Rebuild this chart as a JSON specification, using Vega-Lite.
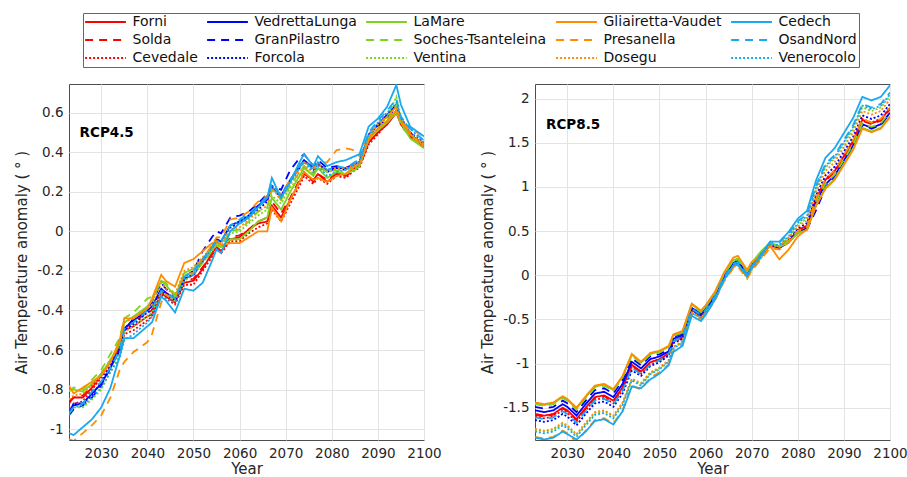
{
  "$schema": "https://vega.github.io/schema/vega-lite/v6.json",
  "background": "white",
  "padding": {"left": 14, "top": 12, "right": 0, "bottom": 0},
  "config": {
    "font": "DejaVu Sans",
    "view": {"stroke": "#4d4d4d", "strokeWidth": 1},
    "axis": {"labelFont": "DejaVu Sans", "labelFontSize": 13.5, "labelColor": "#262626", "titleFont": "DejaVu Sans", "titleFontSize": 15, "titleFontWeight": "normal", "titleColor": "#262626", "gridColor": "#e3e3e3", "gridWidth": 1, "domain": false, "ticks": false, "labelPadding": 6, "labelOverlap": false, "labelFlush": false},
    "axisY": {"titlePadding": 7},
    "axisX": {"titlePadding": 2},
    "concat": {"spacing": 38},
    "legend": {"orient": "none", "legendX": 14, "legendY": -71, "columns": 5, "gridAlign": "each", "symbolType": "M-3.4,0H3.4", "symbolSize": 144, "symbolStrokeWidth": 2, "symbolOffset": 13.5, "labelAlign": "left", "labelFont": "DejaVu Sans", "labelFontSize": 14, "labelColor": "#111111", "strokeColor": "#666666", "padding": 2, "clipHeight": 14, "rowPadding": 4, "columnPadding": 9, "labelOffset": 20, "labelLimit": 300}
  },
  "hconcat": [
    {
      "width": 355,
      "height": 356,
      "layer": [
        {
          "data": {"values": [
            {"s": "Forni", "y": [2023,2024,2026,2028,2030,2032,2034,2035,2037,2040,2041,2043,2044,2046,2048,2050,2052,2054,2055,2056,2058,2060,2062,2064,2066,2067,2069,2071,2073,2074,2076,2077,2079,2081,2083,2085,2086,2088,2090,2092,2094,2095,2097,2100], "v": [-0.87,-0.84,-0.84,-0.79,-0.73,-0.66,-0.59,-0.50,-0.48,-0.43,-0.42,-0.31,-0.33,-0.36,-0.26,-0.25,-0.19,-0.11,-0.08,-0.10,-0.04,-0.03,0.01,0.04,0.05,0.13,0.07,0.16,0.25,0.29,0.26,0.29,0.25,0.29,0.29,0.32,0.33,0.45,0.50,0.54,0.60,0.54,0.48,0.43]},
            {"s": "Solda", "y": [2023,2024,2026,2028,2030,2032,2034,2035,2037,2040,2041,2043,2044,2046,2048,2050,2052,2054,2055,2056,2058,2060,2062,2064,2066,2067,2069,2071,2073,2074,2076,2077,2079,2081,2083,2085,2086,2088,2090,2092,2094,2095,2097,2100], "v": [-0.86,-0.84,-0.83,-0.78,-0.72,-0.65,-0.58,-0.49,-0.46,-0.41,-0.40,-0.30,-0.31,-0.35,-0.25,-0.24,-0.18,-0.12,-0.08,-0.10,-0.03,-0.02,0.01,0.05,0.07,0.15,0.09,0.17,0.26,0.30,0.25,0.29,0.26,0.29,0.28,0.31,0.33,0.45,0.50,0.55,0.61,0.56,0.48,0.43]},
            {"s": "Cevedale", "y": [2023,2024,2026,2028,2030,2032,2034,2035,2037,2040,2041,2043,2044,2046,2048,2050,2052,2054,2055,2056,2058,2060,2062,2064,2066,2067,2069,2071,2073,2074,2076,2077,2079,2081,2083,2085,2086,2088,2090,2092,2094,2095,2097,2100], "v": [-0.91,-0.87,-0.86,-0.80,-0.74,-0.68,-0.61,-0.52,-0.50,-0.45,-0.43,-0.32,-0.34,-0.37,-0.27,-0.27,-0.20,-0.13,-0.09,-0.11,-0.05,-0.05,-0.01,0.02,0.04,0.11,0.05,0.14,0.23,0.28,0.24,0.27,0.24,0.28,0.27,0.31,0.32,0.44,0.49,0.55,0.60,0.56,0.48,0.43]},
            {"s": "VedrettaLunga", "y": [2023,2024,2026,2028,2030,2032,2034,2035,2037,2040,2041,2043,2044,2046,2048,2050,2052,2054,2055,2056,2058,2060,2062,2064,2066,2067,2069,2071,2073,2074,2076,2077,2079,2081,2083,2085,2086,2088,2090,2092,2094,2095,2097,2100], "v": [-0.92,-0.88,-0.87,-0.82,-0.77,-0.69,-0.60,-0.49,-0.45,-0.40,-0.38,-0.29,-0.31,-0.34,-0.24,-0.22,-0.15,-0.08,-0.04,-0.05,0.03,0.05,0.08,0.13,0.16,0.22,0.18,0.26,0.33,0.36,0.32,0.34,0.31,0.32,0.32,0.34,0.35,0.48,0.54,0.59,0.64,0.56,0.49,0.44]},
            {"s": "GranPilastro", "y": [2023,2024,2026,2028,2030,2032,2034,2035,2037,2040,2041,2043,2044,2046,2048,2050,2052,2054,2055,2056,2058,2060,2062,2064,2066,2067,2069,2071,2073,2074,2076,2077,2079,2081,2083,2085,2086,2088,2090,2092,2094,2095,2097,2100], "v": [-0.93,-0.90,-0.88,-0.84,-0.78,-0.69,-0.57,-0.50,-0.44,-0.39,-0.36,-0.26,-0.29,-0.33,-0.23,-0.20,-0.10,-0.03,0.00,-0.01,0.07,0.08,0.10,0.14,0.19,0.23,0.21,0.31,0.37,0.39,0.33,0.36,0.32,0.33,0.32,0.34,0.35,0.48,0.53,0.57,0.63,0.55,0.50,0.43]},
            {"s": "Forcola", "y": [2023,2024,2026,2028,2030,2032,2034,2035,2037,2040,2041,2043,2044,2046,2048,2050,2052,2054,2055,2056,2058,2060,2062,2064,2066,2067,2069,2071,2073,2074,2076,2077,2079,2081,2083,2085,2086,2088,2090,2092,2094,2095,2097,2100], "v": [-0.92,-0.87,-0.87,-0.83,-0.76,-0.68,-0.61,-0.50,-0.47,-0.41,-0.40,-0.30,-0.32,-0.35,-0.24,-0.22,-0.15,-0.09,-0.05,-0.06,0.02,0.04,0.07,0.11,0.15,0.22,0.17,0.25,0.32,0.36,0.31,0.34,0.30,0.32,0.31,0.34,0.35,0.49,0.54,0.58,0.64,0.57,0.50,0.45]},
            {"s": "LaMare", "y": [2023,2024,2026,2028,2030,2032,2034,2035,2037,2040,2041,2043,2044,2046,2048,2050,2052,2054,2055,2056,2058,2060,2062,2064,2066,2067,2069,2071,2073,2074,2076,2077,2079,2081,2083,2085,2086,2088,2090,2092,2094,2095,2097,2100], "v": [-0.80,-0.80,-0.81,-0.77,-0.72,-0.65,-0.57,-0.46,-0.43,-0.38,-0.35,-0.25,-0.27,-0.33,-0.21,-0.19,-0.14,-0.09,-0.07,-0.08,-0.04,-0.04,0.00,0.05,0.07,0.17,0.11,0.20,0.28,0.32,0.28,0.32,0.27,0.30,0.29,0.31,0.33,0.47,0.51,0.55,0.60,0.55,0.47,0.42]},
            {"s": "Soches-Tsanteleina", "y": [2023,2024,2026,2028,2030,2032,2034,2035,2037,2040,2041,2043,2044,2046,2048,2050,2052,2054,2055,2056,2058,2060,2062,2064,2066,2067,2069,2071,2073,2074,2076,2077,2079,2081,2083,2085,2086,2088,2090,2092,2094,2095,2097,2100], "v": [-0.81,-0.79,-0.80,-0.75,-0.70,-0.62,-0.54,-0.44,-0.41,-0.34,-0.33,-0.25,-0.26,-0.32,-0.22,-0.21,-0.16,-0.10,-0.06,-0.07,0.00,0.01,0.05,0.10,0.12,0.21,0.16,0.23,0.30,0.33,0.29,0.33,0.30,0.31,0.31,0.33,0.33,0.48,0.52,0.56,0.64,0.53,0.48,0.43]},
            {"s": "Ventina", "y": [2023,2024,2026,2028,2030,2032,2034,2035,2037,2040,2041,2043,2044,2046,2048,2050,2052,2054,2055,2056,2058,2060,2062,2064,2066,2067,2069,2071,2073,2074,2076,2077,2079,2081,2083,2085,2086,2088,2090,2092,2094,2095,2097,2100], "v": [-0.92,-0.89,-0.89,-0.85,-0.80,-0.71,-0.62,-0.51,-0.48,-0.43,-0.41,-0.31,-0.32,-0.35,-0.25,-0.22,-0.16,-0.10,-0.07,-0.07,-0.01,0.00,0.04,0.08,0.11,0.18,0.14,0.22,0.28,0.32,0.29,0.32,0.30,0.31,0.29,0.32,0.33,0.47,0.52,0.58,0.68,0.58,0.49,0.44]},
            {"s": "Gliairetta-Vaudet", "y": [2023,2024,2026,2028,2030,2032,2034,2035,2037,2040,2041,2043,2044,2046,2048,2050,2052,2054,2055,2056,2058,2060,2062,2064,2066,2067,2069,2071,2073,2074,2076,2077,2079,2081,2083,2085,2086,2088,2090,2092,2094,2095,2097,2100], "v": [-0.78,-0.82,-0.79,-0.76,-0.73,-0.66,-0.55,-0.44,-0.44,-0.39,-0.34,-0.22,-0.25,-0.28,-0.16,-0.14,-0.10,-0.06,-0.05,-0.07,-0.06,-0.06,-0.03,0.00,0.00,0.12,0.05,0.16,0.25,0.30,0.26,0.27,0.25,0.28,0.29,0.33,0.34,0.46,0.52,0.56,0.61,0.56,0.49,0.43]},
            {"s": "Presanella", "y": [2023,2024,2026,2028,2030,2032,2034,2035,2037,2040,2041,2043,2044,2046,2048,2050,2052,2054,2055,2056,2058,2060,2062,2064,2066,2067,2069,2071,2073,2074,2076,2077,2079,2081,2083,2085,2086,2088,2090,2092,2094,2095,2097,2100], "v": [-1.05,-1.06,-1.02,-0.98,-0.93,-0.84,-0.70,-0.66,-0.61,-0.56,-0.52,-0.36,-0.32,-0.34,-0.22,-0.21,-0.14,-0.07,-0.03,-0.03,0.06,0.07,0.10,0.15,0.18,0.21,0.19,0.26,0.32,0.35,0.32,0.34,0.35,0.41,0.42,0.41,0.38,0.49,0.54,0.58,0.63,0.55,0.52,0.48]},
            {"s": "Dosegu", "y": [2023,2024,2026,2028,2030,2032,2034,2035,2037,2040,2041,2043,2044,2046,2048,2050,2052,2054,2055,2056,2058,2060,2062,2064,2066,2067,2069,2071,2073,2074,2076,2077,2079,2081,2083,2085,2086,2088,2090,2092,2094,2095,2097,2100], "v": [-0.85,-0.83,-0.82,-0.78,-0.73,-0.66,-0.57,-0.46,-0.44,-0.39,-0.37,-0.26,-0.29,-0.32,-0.20,-0.18,-0.13,-0.08,-0.05,-0.06,0.01,0.02,0.06,0.10,0.13,0.22,0.16,0.24,0.30,0.33,0.30,0.34,0.31,0.32,0.32,0.34,0.35,0.48,0.54,0.58,0.63,0.55,0.50,0.44]},
            {"s": "OsandNord", "y": [2023,2024,2026,2028,2030,2032,2034,2035,2037,2040,2041,2043,2044,2046,2048,2050,2052,2054,2055,2056,2058,2060,2062,2064,2066,2067,2069,2071,2073,2074,2076,2077,2079,2081,2083,2085,2086,2088,2090,2092,2094,2095,2097,2100], "v": [-0.92,-0.89,-0.87,-0.81,-0.76,-0.69,-0.60,-0.49,-0.46,-0.40,-0.39,-0.30,-0.31,-0.34,-0.23,-0.20,-0.14,-0.08,-0.05,-0.05,0.03,0.06,0.09,0.13,0.18,0.24,0.18,0.26,0.33,0.36,0.31,0.35,0.31,0.33,0.32,0.35,0.36,0.50,0.56,0.61,0.67,0.58,0.52,0.46]},
            {"s": "Venerocolo", "y": [2023,2024,2026,2028,2030,2032,2034,2035,2037,2040,2041,2043,2044,2046,2048,2050,2052,2054,2055,2056,2058,2060,2062,2064,2066,2067,2069,2071,2073,2074,2076,2077,2079,2081,2083,2085,2086,2088,2090,2092,2094,2095,2097,2100], "v": [-0.93,-0.89,-0.88,-0.84,-0.79,-0.71,-0.64,-0.55,-0.52,-0.46,-0.43,-0.33,-0.34,-0.36,-0.24,-0.22,-0.15,-0.09,-0.05,-0.05,0.03,0.05,0.08,0.12,0.17,0.23,0.17,0.25,0.32,0.35,0.30,0.33,0.28,0.30,0.31,0.34,0.35,0.49,0.55,0.60,0.65,0.57,0.52,0.45]},
            {"s": "Cedech", "y": [2023,2024,2026,2028,2030,2032,2034,2035,2037,2040,2041,2043,2044,2046,2048,2050,2052,2054,2055,2056,2058,2060,2062,2064,2066,2067,2069,2071,2073,2074,2076,2077,2079,2081,2083,2085,2086,2088,2090,2092,2094,2095,2097,2100], "v": [-1.02,-1.03,-0.99,-0.95,-0.89,-0.79,-0.63,-0.54,-0.54,-0.48,-0.46,-0.33,-0.35,-0.41,-0.29,-0.30,-0.26,-0.15,-0.09,-0.11,0.00,0.04,0.07,0.12,0.17,0.27,0.17,0.25,0.35,0.39,0.33,0.38,0.33,0.35,0.36,0.38,0.39,0.53,0.57,0.63,0.74,0.64,0.53,0.48]}
          ]},
          "transform": [{"flatten": ["y", "v"]}],
          "mark": {"type": "line", "clip": true, "strokeWidth": 1.8},
          "encoding": {
            "x": {"field": "y", "type": "quantitative", "scale": {"domain": [2023, 2100], "nice": false, "zero": false}, "axis": {"values": [2030, 2040, 2050, 2060, 2070, 2080, 2090, 2100], "format": "d", "title": "Year"}},
            "y": {"field": "v", "type": "quantitative", "scale": {"domain": [-1.055, 0.745], "nice": false, "zero": false}, "axis": {"values": [-1, -0.8, -0.6, -0.4, -0.2, 0, 0.2, 0.4, 0.6], "labelExpr": "'' + datum.value", "title": "Air Temperature anomaly ( ° )"}},
            "color": {"field": "s", "type": "nominal", "scale": {"domain": ["Forni", "Solda", "Cevedale", "VedrettaLunga", "GranPilastro", "Forcola", "LaMare", "Soches-Tsanteleina", "Ventina", "Gliairetta-Vaudet", "Presanella", "Dosegu", "Cedech", "OsandNord", "Venerocolo"], "range": ["#FF0000", "#FF0000", "#FF0000", "#0000FF", "#0000FF", "#0000FF", "#7ED321", "#7ED321", "#7ED321", "#FF8C00", "#FF8C00", "#FF8C00", "#1AA8EE", "#1AA8EE", "#1AA8EE"]}, "legend": {"title": null}},
            "strokeDash": {"field": "s", "type": "nominal", "scale": {"domain": ["Forni", "Solda", "Cevedale", "VedrettaLunga", "GranPilastro", "Forcola", "LaMare", "Soches-Tsanteleina", "Ventina", "Gliairetta-Vaudet", "Presanella", "Dosegu", "Cedech", "OsandNord", "Venerocolo"], "range": [[1, 0], [8, 6], [2, 2], [1, 0], [8, 6], [2, 2], [1, 0], [8, 6], [2, 2], [1, 0], [8, 6], [2, 2], [1, 0], [8, 6], [2, 2]]}, "legend": {"title": null}}
          }
        },
        {
          "data": {"values": [{"t": "RCP4.5", "y": 2025.3, "v": 0.496}]},
          "mark": {"type": "text", "align": "left", "baseline": "middle", "font": "DejaVu Sans", "fontWeight": "bold", "fontSize": 13.5, "color": "#000000"},
          "encoding": {
            "x": {"field": "y", "type": "quantitative"},
            "y": {"field": "v", "type": "quantitative"},
            "text": {"field": "t"}
          }
        }
      ]
    },
    {
      "width": 355,
      "height": 356,
      "layer": [
        {
          "data": {"values": [
            {"s": "Forni", "y": [2023,2025,2027,2029,2030,2032,2034,2036,2038,2040,2042,2044,2046,2048,2050,2052,2053,2055,2057,2059,2060,2062,2064,2066,2067,2069,2070,2072,2074,2076,2078,2080,2082,2084,2086,2088,2090,2092,2094,2096,2098,2100], "v": [-1.57,-1.59,-1.57,-1.50,-1.53,-1.63,-1.50,-1.38,-1.36,-1.42,-1.27,-1.015,-1.09,-0.985,-0.95,-0.885,-0.75,-0.70,-0.39,-0.46,-0.40,-0.25,-0.03,0.12,0.14,0.00,0.09,0.22,0.34,0.31,0.38,0.51,0.56,0.87,1.08,1.18,1.35,1.52,1.76,1.72,1.76,1.89]},
            {"s": "Solda", "y": [2023,2025,2027,2029,2030,2032,2034,2036,2038,2040,2042,2044,2046,2048,2050,2052,2053,2055,2057,2059,2060,2062,2064,2066,2067,2069,2070,2072,2074,2076,2078,2080,2082,2084,2086,2088,2090,2092,2094,2096,2098,2100], "v": [-1.58,-1.60,-1.58,-1.51,-1.54,-1.64,-1.51,-1.39,-1.37,-1.43,-1.28,-1.02,-1.10,-0.99,-0.955,-0.89,-0.75,-0.70,-0.39,-0.45,-0.39,-0.24,-0.02,0.13,0.15,0.01,0.10,0.23,0.35,0.32,0.39,0.50,0.55,0.86,1.07,1.17,1.34,1.51,1.75,1.71,1.75,1.88]},
            {"s": "Cevedale", "y": [2023,2025,2027,2029,2030,2032,2034,2036,2038,2040,2042,2044,2046,2048,2050,2052,2053,2055,2057,2059,2060,2062,2064,2066,2067,2069,2070,2072,2074,2076,2078,2080,2082,2084,2086,2088,2090,2092,2094,2096,2098,2100], "v": [-1.60,-1.62,-1.60,-1.53,-1.56,-1.66,-1.53,-1.41,-1.39,-1.45,-1.30,-1.04,-1.115,-1.01,-0.97,-0.90,-0.76,-0.72,-0.40,-0.47,-0.41,-0.26,-0.04,0.11,0.13,-0.01,0.08,0.21,0.33,0.31,0.38,0.51,0.56,0.88,1.09,1.19,1.36,1.53,1.77,1.73,1.77,1.90]},
            {"s": "VedrettaLunga", "y": [2023,2025,2027,2029,2030,2032,2034,2036,2038,2040,2042,2044,2046,2048,2050,2052,2053,2055,2057,2059,2060,2062,2064,2066,2067,2069,2070,2072,2074,2076,2078,2080,2082,2084,2086,2088,2090,2092,2094,2096,2098,2100], "v": [-1.53,-1.55,-1.53,-1.46,-1.49,-1.59,-1.46,-1.34,-1.32,-1.38,-1.23,-0.98,-1.055,-0.95,-0.92,-0.86,-0.72,-0.68,-0.37,-0.44,-0.38,-0.23,-0.01,0.14,0.16,0.02,0.11,0.24,0.35,0.31,0.37,0.49,0.53,0.83,1.03,1.13,1.30,1.47,1.71,1.67,1.71,1.84]},
            {"s": "GranPilastro", "y": [2023,2025,2027,2029,2030,2032,2034,2036,2038,2040,2042,2044,2046,2048,2050,2052,2053,2055,2057,2059,2060,2062,2064,2066,2067,2069,2070,2072,2074,2076,2078,2080,2082,2084,2086,2088,2090,2092,2094,2096,2098,2100], "v": [-1.49,-1.51,-1.49,-1.42,-1.45,-1.55,-1.42,-1.30,-1.28,-1.34,-1.19,-0.94,-1.02,-0.92,-0.895,-0.84,-0.70,-0.66,-0.35,-0.43,-0.37,-0.22,0.00,0.15,0.17,0.03,0.12,0.25,0.36,0.32,0.38,0.48,0.52,0.74,0.99,1.12,1.29,1.46,1.70,1.66,1.70,1.83]},
            {"s": "Forcola", "y": [2023,2025,2027,2029,2030,2032,2034,2036,2038,2040,2042,2044,2046,2048,2050,2052,2053,2055,2057,2059,2060,2062,2064,2066,2067,2069,2070,2072,2074,2076,2078,2080,2082,2084,2086,2088,2090,2092,2094,2096,2098,2100], "v": [-1.64,-1.66,-1.64,-1.57,-1.60,-1.70,-1.57,-1.45,-1.43,-1.49,-1.34,-1.08,-1.14,-1.03,-0.985,-0.91,-0.77,-0.72,-0.39,-0.46,-0.40,-0.25,-0.03,0.12,0.14,0.00,0.09,0.22,0.35,0.33,0.41,0.53,0.59,0.91,1.13,1.23,1.40,1.57,1.81,1.77,1.81,1.94]},
            {"s": "LaMare", "y": [2023,2025,2027,2029,2030,2032,2034,2036,2038,2040,2042,2044,2046,2048,2050,2052,2053,2055,2057,2059,2060,2062,2064,2066,2067,2069,2070,2072,2074,2076,2078,2080,2082,2084,2086,2088,2090,2092,2094,2096,2098,2100], "v": [-1.45,-1.47,-1.45,-1.38,-1.41,-1.51,-1.38,-1.26,-1.24,-1.30,-1.15,-0.90,-0.99,-0.89,-0.865,-0.81,-0.68,-0.64,-0.33,-0.41,-0.35,-0.20,0.02,0.17,0.19,0.05,0.14,0.27,0.37,0.32,0.37,0.48,0.51,0.80,0.99,1.09,1.26,1.43,1.67,1.63,1.67,1.80]},
            {"s": "Soches-Tsanteleina", "y": [2023,2025,2027,2029,2030,2032,2034,2036,2038,2040,2042,2044,2046,2048,2050,2052,2053,2055,2057,2059,2060,2062,2064,2066,2067,2069,2070,2072,2074,2076,2078,2080,2082,2084,2086,2088,2090,2092,2094,2096,2098,2100], "v": [-1.46,-1.48,-1.46,-1.39,-1.42,-1.52,-1.39,-1.27,-1.25,-1.31,-1.16,-0.91,-1.00,-0.90,-0.875,-0.82,-0.69,-0.65,-0.34,-0.42,-0.36,-0.21,0.01,0.16,0.18,0.04,0.13,0.26,0.37,0.33,0.39,0.50,0.54,0.84,1.04,1.14,1.31,1.48,1.72,1.68,1.72,1.85]},
            {"s": "Ventina", "y": [2023,2025,2027,2029,2030,2032,2034,2036,2038,2040,2042,2044,2046,2048,2050,2052,2053,2055,2057,2059,2060,2062,2064,2066,2067,2069,2070,2072,2074,2076,2078,2080,2082,2084,2086,2088,2090,2092,2094,2096,2098,2100], "v": [-1.75,-1.77,-1.75,-1.68,-1.71,-1.81,-1.68,-1.56,-1.54,-1.60,-1.45,-1.18,-1.23,-1.11,-1.055,-0.97,-0.82,-0.76,-0.43,-0.49,-0.43,-0.28,-0.06,0.09,0.11,-0.03,0.06,0.19,0.34,0.33,0.43,0.57,0.65,0.98,1.22,1.32,1.49,1.66,1.90,1.86,1.90,2.03]},
            {"s": "Gliairetta-Vaudet", "y": [2023,2025,2027,2029,2030,2032,2034,2036,2038,2040,2042,2044,2046,2048,2050,2052,2053,2055,2057,2059,2060,2062,2064,2066,2067,2069,2070,2072,2074,2076,2078,2080,2082,2084,2086,2088,2090,2092,2094,2096,2098,2100], "v": [-1.44,-1.46,-1.44,-1.37,-1.40,-1.50,-1.37,-1.25,-1.23,-1.29,-1.14,-0.89,-0.98,-0.88,-0.855,-0.80,-0.67,-0.63,-0.32,-0.40,-0.34,-0.19,0.03,0.20,0.22,0.06,0.15,0.22,0.33,0.18,0.29,0.44,0.52,0.79,0.98,1.08,1.25,1.42,1.66,1.62,1.66,1.79]},
            {"s": "Presanella", "y": [2023,2025,2027,2029,2030,2032,2034,2036,2038,2040,2042,2044,2046,2048,2050,2052,2053,2055,2057,2059,2060,2062,2064,2066,2067,2069,2070,2072,2074,2076,2078,2080,2082,2084,2086,2088,2090,2092,2094,2096,2098,2100], "v": [-1.83,-1.85,-1.83,-1.76,-1.79,-1.89,-1.76,-1.64,-1.62,-1.68,-1.53,-1.25,-1.295,-1.16,-1.10,-1.01,-0.86,-0.78,-0.44,-0.50,-0.44,-0.29,-0.07,0.08,0.10,-0.04,0.05,0.18,0.31,0.29,0.37,0.50,0.55,0.87,1.09,1.19,1.36,1.53,1.77,1.73,1.77,1.90]},
            {"s": "Dosegu", "y": [2023,2025,2027,2029,2030,2032,2034,2036,2038,2040,2042,2044,2046,2048,2050,2052,2053,2055,2057,2059,2060,2062,2064,2066,2067,2069,2070,2072,2074,2076,2078,2080,2082,2084,2086,2088,2090,2092,2094,2096,2098,2100], "v": [-1.74,-1.76,-1.74,-1.67,-1.70,-1.80,-1.67,-1.55,-1.53,-1.59,-1.44,-1.17,-1.22,-1.10,-1.045,-0.96,-0.81,-0.75,-0.42,-0.48,-0.42,-0.27,-0.05,0.10,0.12,-0.02,0.07,0.20,0.34,0.33,0.42,0.55,0.62,0.95,1.18,1.28,1.45,1.62,1.86,1.82,1.86,1.99]},
            {"s": "OsandNord", "y": [2023,2025,2027,2029,2030,2032,2034,2036,2038,2040,2042,2044,2046,2048,2050,2052,2053,2055,2057,2059,2060,2062,2064,2066,2067,2069,2070,2072,2074,2076,2078,2080,2082,2084,2086,2088,2090,2092,2094,2096,2098,2100], "v": [-1.61,-1.63,-1.61,-1.54,-1.57,-1.67,-1.54,-1.42,-1.40,-1.46,-1.31,-1.05,-1.12,-1.01,-0.965,-0.89,-0.75,-0.70,-0.38,-0.45,-0.39,-0.24,-0.02,0.13,0.15,0.01,0.10,0.23,0.38,0.37,0.47,0.61,0.69,1.02,1.26,1.36,1.53,1.70,1.94,1.90,1.94,2.07]},
            {"s": "Venerocolo", "y": [2023,2025,2027,2029,2030,2032,2034,2036,2038,2040,2042,2044,2046,2048,2050,2052,2053,2055,2057,2059,2060,2062,2064,2066,2067,2069,2070,2072,2074,2076,2078,2080,2082,2084,2086,2088,2090,2092,2094,2096,2098,2100], "v": [-1.77,-1.79,-1.77,-1.70,-1.73,-1.83,-1.70,-1.58,-1.56,-1.62,-1.47,-1.19,-1.25,-1.12,-1.065,-0.98,-0.83,-0.76,-0.43,-0.48,-0.42,-0.27,-0.05,0.10,0.12,-0.02,0.07,0.20,0.35,0.34,0.44,0.59,0.67,1.00,1.24,1.34,1.51,1.68,1.92,1.88,1.92,2.05]},
            {"s": "Cedech", "y": [2023,2025,2027,2029,2030,2032,2034,2036,2038,2040,2042,2044,2046,2048,2050,2052,2053,2055,2057,2059,2060,2062,2064,2066,2067,2069,2070,2072,2074,2076,2078,2080,2082,2084,2086,2088,2090,2092,2094,2096,2098,2100], "v": [-1.84,-1.86,-1.84,-1.77,-1.80,-1.86,-1.77,-1.65,-1.63,-1.69,-1.54,-1.26,-1.28,-1.18,-1.115,-1.02,-0.87,-0.80,-0.46,-0.52,-0.45,-0.28,-0.05,0.11,0.13,-0.01,0.09,0.23,0.38,0.38,0.49,0.64,0.73,1.08,1.33,1.44,1.61,1.78,2.02,1.98,2.02,2.15]}
          ]},
          "transform": [{"flatten": ["y", "v"]}],
          "mark": {"type": "line", "clip": true, "strokeWidth": 1.8},
          "encoding": {
            "x": {"field": "y", "type": "quantitative", "scale": {"domain": [2023, 2100], "nice": false, "zero": false}, "axis": {"values": [2030, 2040, 2050, 2060, 2070, 2080, 2090, 2100], "format": "d", "title": "Year"}},
            "y": {"field": "v", "type": "quantitative", "scale": {"domain": [-1.866, 2.166], "nice": false, "zero": false}, "axis": {"values": [-1.5, -1, -0.5, 0, 0.5, 1, 1.5, 2], "labelExpr": "'' + datum.value", "title": "Air Temperature anomaly ( ° )"}},
            "color": {"field": "s", "type": "nominal", "scale": {"domain": ["Forni", "Solda", "Cevedale", "VedrettaLunga", "GranPilastro", "Forcola", "LaMare", "Soches-Tsanteleina", "Ventina", "Gliairetta-Vaudet", "Presanella", "Dosegu", "Cedech", "OsandNord", "Venerocolo"], "range": ["#FF0000", "#FF0000", "#FF0000", "#0000FF", "#0000FF", "#0000FF", "#7ED321", "#7ED321", "#7ED321", "#FF8C00", "#FF8C00", "#FF8C00", "#1AA8EE", "#1AA8EE", "#1AA8EE"]}, "legend": {"title": null}},
            "strokeDash": {"field": "s", "type": "nominal", "scale": {"domain": ["Forni", "Solda", "Cevedale", "VedrettaLunga", "GranPilastro", "Forcola", "LaMare", "Soches-Tsanteleina", "Ventina", "Gliairetta-Vaudet", "Presanella", "Dosegu", "Cedech", "OsandNord", "Venerocolo"], "range": [[1, 0], [8, 6], [2, 2], [1, 0], [8, 6], [2, 2], [1, 0], [8, 6], [2, 2], [1, 0], [8, 6], [2, 2], [1, 0], [8, 6], [2, 2]]}, "legend": {"title": null}}
          }
        },
        {
          "data": {"values": [{"t": "RCP8.5", "y": 2025.4, "v": 1.70}]},
          "mark": {"type": "text", "align": "left", "baseline": "middle", "font": "DejaVu Sans", "fontWeight": "bold", "fontSize": 13.5, "color": "#000000"},
          "encoding": {
            "x": {"field": "y", "type": "quantitative"},
            "y": {"field": "v", "type": "quantitative"},
            "text": {"field": "t"}
          }
        }
      ]
    }
  ]
}
